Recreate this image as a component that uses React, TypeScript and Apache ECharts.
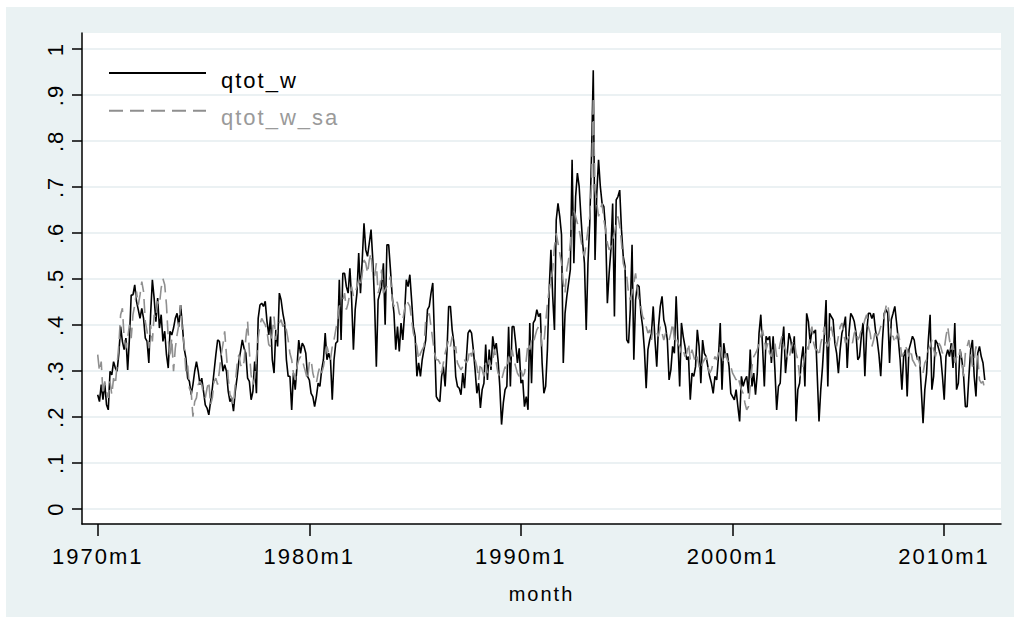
import React, { useEffect, useRef } from "react";
import * as echarts from "echarts";

const START_YEAR = 1970;
const seriesNames = ["qtot_w", "qtot_w_sa"];
const xTitle = "month";

// qtot_w, monthly from 1970m1 (one row per year)
const qtotW = [
  .248,.233,.270,.237,.273,.226,.215,.299,.291,.320,.306,.299,
  .338,.396,.364,.346,.371,.302,.371,.465,.465,.487,.451,.433,
  .414,.436,.414,.371,.364,.317,.422,.498,.458,.407,.458,.393,
  .422,.364,.386,.335,.306,.386,.378,.393,.414,.425,.396,.443,
  .400,.349,.328,.284,.277,.248,.270,.299,.320,.299,.270,.284,
  .255,.226,.219,.204,.233,.262,.299,.335,.367,.364,.335,.299,
  .313,.299,.255,.233,.241,.212,.255,.284,.320,.342,.367,.349,
  .338,.284,.277,.237,.255,.320,.251,.414,.443,.447,.440,.451,
  .407,.378,.418,.324,.295,.389,.353,.469,.454,.425,.404,.324,
  .288,.288,.215,.295,.259,.309,.367,.338,.360,.353,.338,.288,
  .280,.251,.244,.222,.244,.273,.266,.302,.324,.382,.324,.338,
  .324,.237,.324,.360,.364,.498,.367,.512,.512,.483,.469,.523,
  .454,.346,.433,.469,.556,.469,.541,.621,.563,.549,.578,.607,
  .541,.447,.309,.454,.469,.483,.534,.400,.574,.574,.520,.462,
  .425,.346,.396,.342,.404,.367,.425,.498,.483,.509,.454,.396,
  .375,.288,.317,.288,.324,.346,.367,.433,.440,.469,.491,.367,
  .244,.237,.233,.288,.309,.266,.338,.440,.440,.389,.360,.288,
  .266,.262,.248,.295,.262,.324,.382,.389,.382,.346,.302,.251,
  .273,.219,.259,.273,.357,.280,.346,.302,.375,.346,.360,.324,
  .266,.183,.230,.259,.266,.396,.266,.396,.396,.360,.317,.349,
  .273,.280,.222,.244,.215,.404,.273,.404,.411,.433,.418,.425,
  .317,.251,.266,.346,.476,.563,.462,.389,.628,.664,.636,.596,
  .317,.425,.462,.491,.520,.759,.534,.679,.730,.701,.636,.578,
  .534,.389,.534,.621,.766,.954,.541,.686,.759,.701,.664,.657,
  .607,.447,.512,.563,.664,.418,.672,.679,.693,.607,.549,.527,
  .367,.360,.433,.574,.324,.454,.487,.483,.425,.396,.346,.262,
  .346,.367,.382,.440,.367,.309,.396,.440,.462,.411,.396,.367,
  .280,.302,.353,.338,.462,.367,.266,.404,.375,.353,.324,.331,
  .237,.295,.288,.309,.389,.353,.273,.367,.338,.331,.309,.288,
  .273,.251,.288,.280,.331,.404,.259,.360,.331,.338,.309,.251,
  .244,.237,.259,.222,.190,.288,.266,.280,.288,.251,.346,.266,
  .295,.248,.295,.382,.422,.353,.266,.375,.367,.375,.317,.375,
  .302,.215,.266,.273,.353,.396,.295,.338,.382,.367,.338,.375,
  .190,.259,.273,.324,.353,.266,.425,.407,.360,.389,.382,.389,
  .291,.190,.259,.309,.375,.454,.266,.425,.418,.411,.360,.338,
  .295,.346,.382,.396,.418,.306,.382,.425,.418,.407,.382,.324,
  .331,.375,.404,.288,.382,.425,.425,.414,.425,.389,.367,.335,
  .288,.367,.425,.433,.425,.317,.411,.425,.440,.404,.367,.324,
  .259,.331,.346,.244,.346,.360,.375,.367,.338,.324,.331,.259,
  .186,.259,.295,.367,.422,.259,.288,.367,.360,.346,.331,.288,
  .237,.331,.346,.331,.360,.306,.404,.259,.273,.346,.324,.288,
  .222,.222,.288,.346,.367,.288,.244,.338,.353,.331,.317,.280,
];

// qtot_w_sa, monthly from 1970m1 (one row per year)
const qtotWSa = [
  .335,.299,.320,.248,.277,.255,.241,.277,.248,.284,.270,.313,
  .357,.422,.436,.371,.349,.371,.400,.371,.422,.443,.472,.443,
  .465,.494,.472,.407,.386,.349,.400,.364,.422,.414,.451,.443,
  .480,.500,.487,.443,.371,.328,.371,.299,.349,.378,.400,.443,
  .386,.357,.299,.313,.262,.255,.200,.233,.241,.270,.277,.270,
  .248,.241,.262,.277,.226,.241,.277,.284,.270,.299,.335,.357,
  .386,.335,.284,.248,.241,.226,.270,.313,.335,.313,.306,.320,
  .371,.407,.342,.291,.270,.284,.328,.371,.400,.414,.407,.400,
  .386,.357,.353,.382,.418,.367,.396,.404,.411,.396,.404,.389,
  .367,.338,.324,.295,.280,.309,.324,.331,.324,.309,.295,.280,
  .317,.324,.295,.280,.273,.295,.309,.295,.309,.331,.353,.338,
  .324,.353,.367,.389,.411,.440,.447,.454,.469,.433,.447,.469,
  .483,.462,.469,.483,.498,.483,.512,.541,.534,.512,.541,.556,
  .505,.505,.534,.469,.483,.520,.469,.476,.483,.491,.505,.454,
  .440,.454,.447,.425,.418,.411,.433,.454,.447,.440,.411,.382,
  .367,.353,.324,.338,.346,.353,.411,.418,.425,.396,.367,.338,
  .324,.324,.317,.295,.317,.338,.353,.367,.353,.375,.346,.353,
  .317,.309,.302,.309,.324,.317,.324,.346,.331,.346,.324,.309,
  .280,.317,.302,.288,.317,.295,.324,.309,.324,.346,.317,.295,
  .288,.280,.295,.309,.302,.331,.317,.346,.324,.309,.295,.288,
  .302,.288,.295,.324,.360,.346,.367,.360,.375,.389,.396,.389,
  .353,.360,.404,.447,.476,.498,.520,.570,.599,.578,.556,.534,
  .491,.469,.520,.541,.578,.636,.650,.636,.621,.607,.585,.563,
  .549,.578,.607,.636,.701,.896,.693,.664,.636,.650,.664,.628,
  .607,.578,.563,.570,.585,.599,.621,.636,.614,.578,.534,.520,
  .505,.469,.454,.469,.491,.512,.476,.454,.440,.418,.411,.396,
  .382,.389,.367,.396,.389,.382,.375,.396,.382,.367,.382,.375,
  .367,.382,.404,.367,.375,.360,.353,.338,.346,.331,.338,.360,
  .324,.346,.331,.317,.331,.309,.302,.317,.324,.331,.309,.295,
  .302,.317,.331,.324,.338,.353,.331,.317,.338,.324,.317,.309,
  .295,.288,.280,.288,.273,.259,.251,.230,.215,.222,.266,.309,
  .331,.338,.346,.360,.375,.389,.367,.346,.360,.338,.331,.353,
  .360,.331,.338,.360,.375,.353,.346,.331,.324,.346,.360,.367,
  .338,.324,.288,.302,.309,.338,.353,.346,.382,.396,.360,.346,
  .346,.331,.360,.375,.396,.360,.353,.367,.396,.375,.367,.353,
  .375,.396,.404,.382,.360,.367,.375,.367,.360,.382,.389,.367,
  .375,.389,.396,.411,.422,.396,.382,.353,.367,.389,.375,.382,
  .396,.404,.418,.440,.447,.411,.375,.375,.360,.375,.382,.360,
  .331,.338,.353,.346,.331,.346,.324,.317,.309,.331,.317,.302,
  .295,.317,.324,.346,.353,.367,.346,.331,.346,.360,.353,.338,
  .346,.375,.396,.367,.346,.360,.317,.331,.324,.346,.317,.288,
  .338,.353,.367,.338,.309,.324,.353,.331,.280,.273,.277,.259,
];

const xTickMonths = [0, 120, 240, 360, 480];
const xTickLabels = ["1970m1", "1980m1", "1990m1", "2000m1", "2010m1"];
const yTickLabels = ["0", ".1", ".2", ".3", ".4", ".5", ".6", ".7", ".8", ".9", "1"];

const FONT = "'Liberation Sans', Arial, Helvetica, sans-serif";
const BLACK = "#000000";
const GRAY = "#8f8f8f";
const GRID_LINE = "#e4ecef";

export default function App() {
  const ref = useRef<HTMLDivElement>(null);

  useEffect(() => {
    if (!ref.current) return;
    const chart = echarts.init(ref.current, null, { renderer: "svg" });

    const toPairs = (arr: number[]) => arr.map((v, i) => [i, v]);
    const monthLabel = (m: number) => {
      const k = xTickMonths.indexOf(Math.round(m));
      if (k >= 0) return xTickLabels[k];
      return `${START_YEAR + Math.floor(m / 12)}m${(m % 12) + 1}`;
    };

    const option: any = {
      animation: false,
      backgroundColor: "#eaf2f3",
      textStyle: { fontFamily: FONT },
      grid: [
        { left: 76, top: 26, width: 919, height: 491, show: true, backgroundColor: "#ffffff", borderWidth: 0, containLabel: false },
        { left: 76, top: 42, width: 919, height: 459.7, show: false, containLabel: false },
        { left: 91.7, top: 26, width: 846.3, height: 491, show: false, containLabel: false },
      ],
      xAxis: [
        {
          gridIndex: 0, type: "value", min: -8.9, max: 512.2,
          axisLine: { show: true, onZero: false, lineStyle: { color: BLACK, width: 1.5 } },
          axisTick: { show: false }, axisLabel: { show: false }, splitLine: { show: false },
          name: xTitle, nameLocation: "middle", nameGap: 60,
          nameTextStyle: { fontSize: 20, color: BLACK, fontFamily: FONT },
        },
        { gridIndex: 1, type: "value", min: 0, max: 1, show: false },
        {
          gridIndex: 2, type: "value", min: 0, max: 480, interval: 120,
          axisLine: { show: false, onZero: false },
          axisTick: { show: true, length: 12, lineStyle: { color: BLACK, width: 1.5 } },
          axisLabel: { show: true, margin: 21, fontSize: 22, color: BLACK, fontFamily: FONT, formatter: (v: number) => monthLabel(v) },
          splitLine: { show: false },
        },
      ],
      yAxis: [
        {
          gridIndex: 0, type: "value", min: -0.0333, max: 1.0348,
          axisLine: { show: true, onZero: false, lineStyle: { color: BLACK, width: 1.5 } },
          axisTick: { show: false }, axisLabel: { show: false }, splitLine: { show: false },
        },
        {
          gridIndex: 1, type: "value", min: 0, max: 1, interval: 0.1,
          axisLine: { show: false, onZero: false },
          axisTick: { show: true, length: 10, lineStyle: { color: BLACK, width: 1.5 } },
          axisLabel: {
            show: true, rotate: 90, margin: 16, fontSize: 22, color: BLACK, fontFamily: FONT,
            formatter: (v: number) => yTickLabels[Math.round(v * 10)],
          },
          splitLine: { show: true, lineStyle: { color: GRID_LINE, width: 1.5 } },
        },
        { gridIndex: 2, type: "value", min: 0, max: 1, show: false },
      ],
      series: [
        {
          name: seriesNames[0], type: "line", xAxisIndex: 0, yAxisIndex: 0,
          data: toPairs(qtotW), showSymbol: false, symbol: "none", silent: true,
          lineStyle: { color: BLACK, width: 1.6 }, z: 3,
        },
        {
          name: seriesNames[1], type: "line", xAxisIndex: 0, yAxisIndex: 0,
          data: toPairs(qtotWSa), showSymbol: false, symbol: "none", silent: true,
          lineStyle: { color: GRAY, width: 1.6, type: [14, 7] }, z: 4,
        },
      ],
      graphic: [
        { type: "line", shape: { x1: 103, y1: 66, x2: 200, y2: 66 }, style: { stroke: BLACK, lineWidth: 2 }, z: 10 },
        { type: "text", x: 215, y: 73, style: { text: seriesNames[0], fill: BLACK, font: `22px ${FONT}`, verticalAlign: "middle", align: "left" }, z: 10 },
        { type: "line", shape: { x1: 103, y1: 103.7, x2: 200, y2: 103.7 }, style: { stroke: GRAY, lineWidth: 2, lineDash: [14, 7] }, z: 10 },
        { type: "text", x: 215, y: 110, style: { text: seriesNames[1], fill: "#9a9a9a", font: `22px ${FONT}`, verticalAlign: "middle", align: "left" }, z: 10 },
      ],
    };

    chart.setOption(option);
    return () => chart.dispose();
  }, []);

  return (
    <div
      ref={ref}
      style={{ position: "absolute", left: 6, top: 7, width: 1008, height: 610, letterSpacing: "2px" }}
    />
  );
}
